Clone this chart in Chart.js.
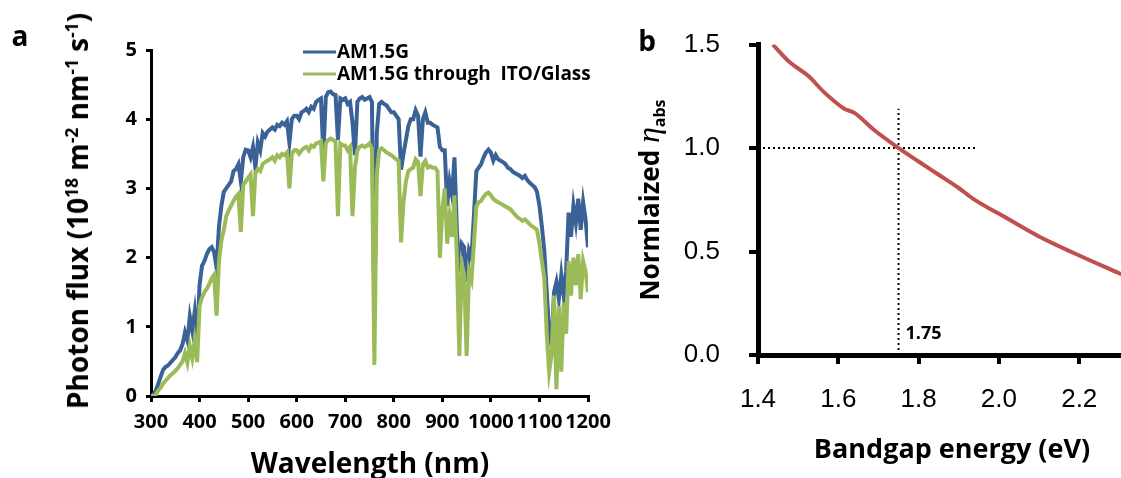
<!DOCTYPE html>
<html>
<head>
<meta charset="utf-8">
<script src="https://cdn.jsdelivr.net/npm/chart.js@4.4.1/dist/chart.umd.min.js"></script>
<style>
  body { margin: 0; width: 1121px; height: 478px; background: #fff; position: relative; overflow: hidden; font-family: "Open Sans", sans-serif; }
  canvas { position: absolute; top: 0; }
  #cvA { left: 0; }
  #cvB { left: 620px; }
  .lbl { position: absolute; font-weight: bold; color: #000; white-space: nowrap; line-height: 1; transform: translate(-50%, -50%); }
  .rot { transform: translate(-50%, -50%) rotate(-90deg); }
  .lbl sup { font-size: 62%; position: relative; top: -0.6em; vertical-align: baseline; }
  .eta { font-family: "Liberation Serif", serif; font-style: italic; font-size: 32px; font-weight: normal; }
  .sub { font-size: 16px; position: relative; top: 0.35em; }
</style>
</head>
<body>
<canvas id="cvA" width="620" height="478"></canvas>
<canvas id="cvB" width="501" height="478"></canvas>

<div class="lbl" style="left:20px;top:35px;font-size:28px">a</div>
<div class="lbl" style="left:647px;top:40px;font-size:28px">b</div>
<div class="lbl rot" style="left:77px;top:211px;font-size:28px">Photon flux (10<sup>18</sup> m<sup>-2</sup> nm<sup>-1</sup> s<sup>-1</sup>)</div>
<div class="lbl" style="left:370px;top:462px;font-size:28px">Wavelength (nm)</div>
<div class="lbl rot" style="left:648px;top:200px;font-size:26px">Normlaized <span class="eta">η</span><span class="sub">abs</span></div>
<div class="lbl" style="left:952px;top:447px;font-size:27px">Bandgap energy (eV)</div>

<script>
// panel a: photon flux, 10^18 m^-2 nm^-1 s^-1
const wavelength = [
  300, 305, 310, 315, 320, 325, 330, 335, 340, 345,
  350, 355, 360, 365, 370, 375, 380, 385, 390, 395,
  400, 405, 410, 415, 420, 425, 430, 435, 440, 445,
  450, 455, 460, 465, 470, 475, 480, 485, 490, 495,
  500, 505, 510, 515, 520, 525, 530, 535, 540, 545,
  550, 555, 560, 565, 570, 575, 580, 585, 590, 595,
  600, 605, 610, 615, 620, 625, 630, 635, 640, 645,
  650, 655, 660, 665, 670, 675, 680, 685, 690, 695,
  700, 705, 710, 715, 720, 725, 730, 735, 740, 745,
  750, 755, 760, 765, 770, 775, 780, 785, 790, 795,
  800, 805, 810, 815, 820, 825, 830, 835, 840, 845,
  850, 855, 860, 865, 870, 875, 880, 885, 890, 895,
  900, 905, 910, 915, 920, 925, 930, 935, 940, 945,
  950, 955, 960, 965, 970, 975, 980, 985, 990, 995,
  1000, 1005, 1010, 1015, 1020, 1025, 1030, 1035, 1040, 1045,
  1050, 1055, 1060, 1065, 1070, 1075, 1080, 1085, 1090, 1095,
  1100, 1105, 1110, 1115, 1120, 1125, 1130, 1135, 1140, 1145,
  1150, 1155, 1160, 1165, 1170, 1175, 1180, 1185, 1190, 1195,
  1200
];
const am15g = [
  0.00, 0.02, 0.08, 0.18, 0.28, 0.38, 0.42, 0.44, 0.48, 0.52,
  0.56, 0.62, 0.66, 0.75, 0.92, 0.80, 1.15, 0.95, 1.22, 0.80,
  1.60, 1.88, 1.95, 2.05, 2.12, 2.15, 2.08, 1.85, 2.45, 2.75,
  2.95, 3.00, 3.05, 3.10, 3.25, 3.28, 3.35, 3.10, 3.45, 3.56,
  3.55, 3.45, 3.60, 3.30, 3.66, 3.55, 3.80, 3.75, 3.82, 3.85,
  3.88, 3.85, 3.92, 3.90, 3.95, 3.92, 3.97, 3.66, 4.00, 4.05,
  4.05, 4.00, 4.10, 4.12, 4.15, 4.10, 4.18, 4.15, 4.25, 4.28,
  4.30, 3.50, 4.32, 4.39, 4.40, 4.36, 4.35, 3.70, 4.30, 4.28,
  4.30, 4.22, 4.25, 3.95, 3.48, 4.25, 4.30, 4.32, 4.28, 4.30,
  4.32, 4.25, 1.20, 3.80, 4.22, 4.25, 4.22, 4.20, 4.15, 4.10,
  4.10, 4.05, 4.00, 3.27, 3.50, 3.70, 3.90, 4.00, 4.00, 4.13,
  4.05, 3.46, 4.00, 4.10, 3.95, 3.95, 3.92, 3.90, 3.88, 3.60,
  3.55, 3.55, 2.75, 3.10, 2.90, 3.45, 2.40, 1.80, 2.20, 2.15,
  1.65, 2.10, 2.00, 2.60, 3.25, 3.30, 3.35, 3.45, 3.52, 3.56,
  3.52, 3.40, 3.48, 3.42, 3.40, 3.38, 3.35, 3.30, 3.28, 3.24,
  3.22, 3.20, 3.18, 3.15, 3.18, 3.12, 3.08, 3.05, 3.02, 2.95,
  2.75, 2.45, 2.10, 1.50, 0.95, 0.72, 1.50, 1.65, 1.40, 1.75,
  1.45, 1.80, 2.65, 2.30, 2.75, 2.50, 2.85, 2.40, 2.80, 2.55,
  2.15
];
const throughIto = [
  0.00, 0.00, 0.02, 0.08, 0.12, 0.18, 0.22, 0.26, 0.30, 0.33,
  0.36, 0.40, 0.45, 0.50, 0.62, 0.48, 0.72, 0.55, 0.80, 0.49,
  1.30, 1.42, 1.50, 1.55, 1.62, 1.70, 1.75, 1.16, 1.95, 2.25,
  2.40, 2.60, 2.68, 2.75, 2.82, 2.88, 2.92, 2.37, 3.05, 3.10,
  3.15, 3.20, 2.60, 3.22, 3.28, 3.25, 3.35, 3.38, 3.40, 3.42,
  3.45, 3.40, 3.48, 3.45, 3.50, 3.48, 3.52, 3.00, 3.50, 3.55,
  3.55, 3.50, 3.55, 3.58, 3.60, 3.55, 3.62, 3.60, 3.65, 3.66,
  3.68, 3.10, 3.65, 3.70, 3.72, 3.70, 3.68, 2.60, 3.65, 3.62,
  3.62, 3.55, 3.60, 2.60, 3.30, 3.55, 3.60, 3.62, 3.60, 3.62,
  3.65, 3.58, 0.45, 3.20, 3.55, 3.58, 3.55, 3.52, 3.50, 3.48,
  3.45, 3.42, 3.40, 2.22, 2.80, 3.10, 3.25, 3.28, 3.30, 3.42,
  3.38, 2.89, 3.35, 3.40, 3.30, 3.32, 3.30, 3.30, 3.25, 2.00,
  2.70, 3.00, 2.20, 2.60, 2.30, 2.90, 2.00, 0.58, 1.90, 1.75,
  0.58, 1.80, 1.68, 2.20, 2.74, 2.80, 2.82, 2.88, 2.92, 2.94,
  2.90, 2.85, 2.82, 2.80, 2.78, 2.76, 2.74, 2.72, 2.70, 2.66,
  2.62, 2.58, 2.56, 2.53, 2.55, 2.52, 2.48, 2.45, 2.43, 2.40,
  2.20, 1.95, 1.70, 0.90, 0.35, 0.60, 1.45, 0.10, 1.30, 0.35,
  1.35, 0.90, 1.95, 1.45, 2.00, 1.60, 2.05, 1.40, 1.95, 1.80,
  1.50
];
const xTicksA = [300, 400, 500, 600, 700, 800, 900, 1000, 1100, 1200];
const yTicksA = [0, 1, 2, 3, 4, 5];

// panel b: normalized absorption efficiency vs bandgap
const energy = [1.437, 1.48, 1.525, 1.565, 1.615, 1.64, 1.69, 1.745, 1.80, 1.85, 1.90, 1.935, 2.02, 2.10, 2.185, 2.305];
const etaAbs = [1.50, 1.413, 1.349, 1.269, 1.19, 1.17, 1.086, 1.007, 0.935, 0.871, 0.807, 0.756, 0.661, 0.573, 0.494, 0.39];
const hGuideX = [1.4, 1.945];
const hGuideY = [1.0, 1.0];
const vGuideX = [1.75, 1.75];
const vGuideY = [0, 1.19];
const xTicksB = [1.4, 1.6, 1.8, 2.0, 2.2];
const yTicksB = [0, 0.5, 1.0, 1.5];

const BLUE = '#3A6297';
const GREEN = '#9BBB59';
const RED = '#C0504D';

const pts = (xs, ys) => xs.map((x, i) => ({ x: x, y: ys[i] }));
const fixTicks = list => s => { s.ticks = list.map(v => ({ value: v })); };

// legend drawn at fixed place, from the datasets
const legendA = {
  id: 'legendA',
  afterDraw(chart) {
    const ctx = chart.ctx;
    ctx.save();
    ctx.font = 'bold 19px "Open Sans"';
    ctx.textBaseline = 'middle';
    ctx.fillStyle = '#000';
    chart.data.datasets.forEach((ds, i) => {
      const y = 52 + i * 22;
      ctx.strokeStyle = ds.borderColor;
      ctx.lineWidth = 3;
      ctx.beginPath();
      ctx.moveTo(303, y);
      ctx.lineTo(336, y);
      ctx.stroke();
      ctx.fillText(ds.label, 337, y + 1);
    });
    ctx.restore();
  }
};

const markB = {
  id: 'markB',
  afterDatasetsDraw(chart) {
    const ctx = chart.ctx;
    const x = chart.scales.x.getPixelForValue(vGuideX[0]);
    const y = chart.scales.y.getPixelForValue(0);
    ctx.save();
    ctx.font = 'bold 18px "Open Sans"';
    ctx.textBaseline = 'middle';
    ctx.fillStyle = '#000';
    ctx.fillText('1.75', x + 7, y - 21);
    ctx.restore();
  }
};

const tickFontA = { family: 'Open Sans', weight: 'bold', size: 20 };

new Chart(document.getElementById('cvA'), {
  type: 'line',
  data: {
    datasets: [
      { label: 'AM1.5G', data: pts(wavelength, am15g), borderColor: BLUE, borderWidth: 4, pointRadius: 0, order: 2 },
      { label: 'AM1.5G through  ITO/Glass', data: pts(wavelength, throughIto), borderColor: GREEN, borderWidth: 4, pointRadius: 0, order: 1 }
    ]
  },
  options: {
    responsive: false,
    animation: false,
    events: [],
    layout: { padding: { top: 50, right: 32, left: 0, bottom: 0 } },
    plugins: { legend: { display: false }, tooltip: { enabled: false } },
    scales: {
      x: {
        type: 'linear', min: 300, max: 1200,
        afterBuildTicks: fixTicks(xTicksA),
        afterFit: s => { s.height = 82; },
        ticks: { color: '#000', font: tickFontA, padding: 8, maxRotation: 0, minRotation: 0, autoSkip: false, callback: v => String(v) },
        grid: { drawOnChartArea: false, drawTicks: true, tickLength: 6, color: '#000', lineWidth: 3 },
        border: { color: '#000', width: 3 }
      },
      y: {
        min: 0, max: 5,
        afterBuildTicks: fixTicks(yTicksA),
        afterFit: s => { s.width = 151; },
        ticks: { color: '#000', font: tickFontA, padding: 9, callback: v => String(v) },
        grid: { drawOnChartArea: false, drawTicks: true, tickLength: 5, color: '#000', lineWidth: 3 },
        border: { color: '#000', width: 3 }
      }
    }
  },
  plugins: [legendA]
});

new Chart(document.getElementById('cvB'), {
  type: 'line',
  data: {
    datasets: [
      { label: 'Normlaized', data: pts(energy, etaAbs), borderColor: RED, borderWidth: 4, pointRadius: 0, cubicInterpolationMode: 'monotone', order: 1 },
      { label: 'guide h', data: pts(hGuideX, hGuideY), borderColor: '#000', borderWidth: 2, borderDash: [2, 3], pointRadius: 0, order: 2 },
      { label: 'guide v', data: pts(vGuideX, vGuideY), borderColor: '#000', borderWidth: 2, borderDash: [2, 3], pointRadius: 0, order: 3 }
    ]
  },
  options: {
    responsive: false,
    animation: false,
    events: [],
    layout: { padding: { top: 41, right: 0, left: 0, bottom: 0 } },
    plugins: { legend: { display: false }, tooltip: { enabled: false } },
    scales: {
      x: {
        type: 'linear', min: 1.4, max: 2.304,
        afterBuildTicks: fixTicks(xTicksB),
        afterFit: s => { s.height = 123; },
        ticks: { color: '#000', font: { family: 'Liberation Sans', size: 26 }, padding: 20, maxRotation: 0, autoSkip: false, callback: v => v.toFixed(1) },
        grid: { drawOnChartArea: false, drawTicks: true, tickLength: 9, color: '#000', lineWidth: 4 },
        border: { color: '#000', width: 5 }
      },
      y: {
        min: 0, max: 1.5,
        afterBuildTicks: fixTicks(yTicksB),
        afterFit: s => { s.width = 138; },
        ticks: { color: '#000', font: { family: 'Liberation Sans', size: 26 }, padding: 29, callback: v => v.toFixed(1) },
        grid: { drawOnChartArea: false, drawTicks: true, tickLength: 9, color: '#000', lineWidth: 4 },
        border: { color: '#000', width: 5 }
      }
    }
  },
  plugins: [markB]
});
</script>
</body>
</html>
